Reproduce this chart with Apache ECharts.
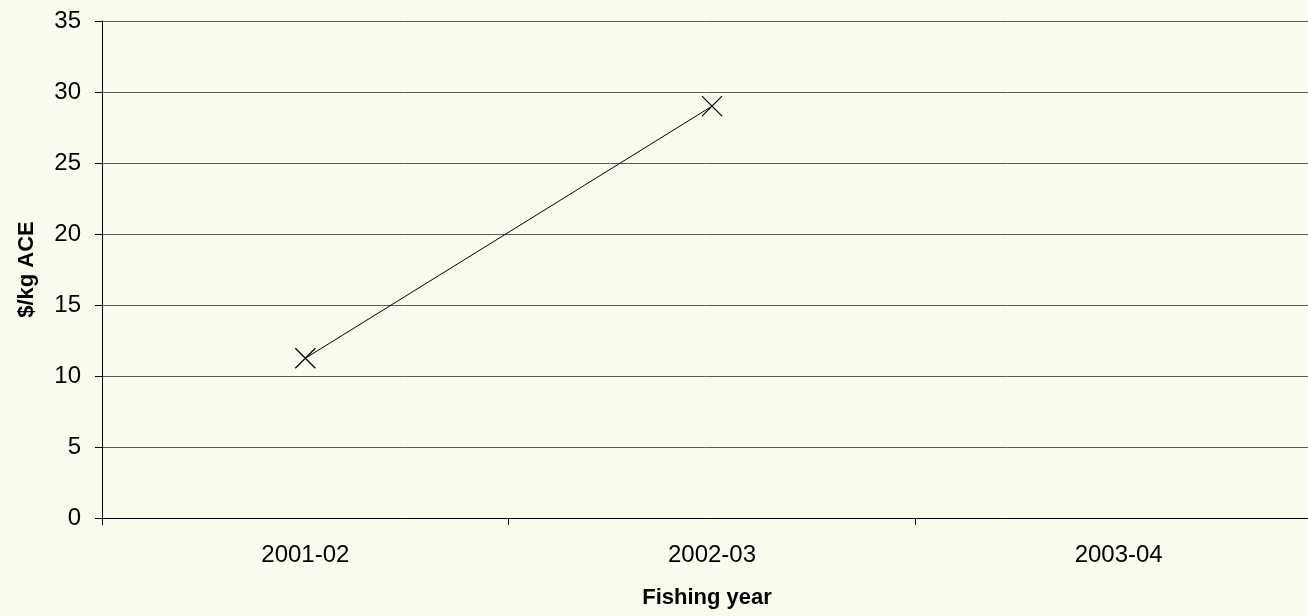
<!DOCTYPE html>
<html><head><meta charset="utf-8">
<script src="https://cdn.jsdelivr.net/npm/echarts@6/dist/echarts.min.js"></script>
<style>html,body{margin:0;padding:0;background:#FBFCEE;overflow:hidden;}#c{width:1308px;height:616px;}</style>
</head><body><div id="c"></div>
<script>
const categories = ['2001-02', '2002-03', '2003-04'];
const values = [11.25, 29.0, null];
const yTicks = [0, 5, 10, 15, 20, 25, 30, 35];

const chart = echarts.init(document.getElementById('c'), null, {renderer: 'canvas'});
chart.setOption({
  backgroundColor: '#FBFCEE',
  animation: false,
  grid: {left: 102, width: 1220, top: 21, bottom: 98, containLabel: false, outerBoundsMode: 'none'},
  xAxis: {
    type: 'category', data: categories, boundaryGap: true,
    name: 'Fishing year', nameLocation: 'middle', nameGap: 69,
    nameTextStyle: {fontFamily: 'Liberation Sans', fontSize: 22, fontWeight: 'bold', color: '#000', padding: [0, 0, 0, -10]},
    axisLine: {lineStyle: {color: '#000', width: 1}},
    axisTick: {show: true, length: 7, lineStyle: {color: '#000'}},
    axisLabel: {fontFamily: 'Liberation Sans', fontSize: 24, color: '#000', margin: 25}
  },
  yAxis: {
    type: 'value', min: 0, max: 35, interval: 5,
    name: '$/kg ACE', nameLocation: 'middle', nameGap: 64, nameRotate: 90,
    nameTextStyle: {fontFamily: 'Liberation Sans', fontSize: 22, fontWeight: 'bold', color: '#000'},
    axisLine: {show: true, lineStyle: {color: '#000', width: 1}},
    axisTick: {show: true, length: 7, lineStyle: {color: '#000'}},
    axisLabel: {fontFamily: 'Liberation Sans', fontSize: 24, color: '#000', margin: 21,
      formatter: v => yTicks.includes(v) ? String(v) : ''},
    splitLine: {show: true, lineStyle: {color: '#5a5a5a', width: 1}}
  },
  series: [{
    type: 'line', data: values, connectNulls: false,
    symbol: 'path://M0,0L10,10M10,0L0,10', symbolSize: 20,
    showSymbol: true,
    itemStyle: {color: 'rgba(0,0,0,0)', borderColor: '#000', borderWidth: 1.2},
    lineStyle: {color: '#000', width: 1}
  }]
});
</script></body></html>
